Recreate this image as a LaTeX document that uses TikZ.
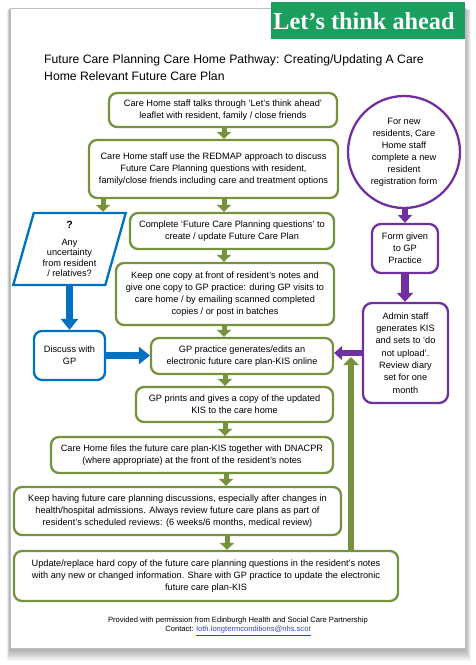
\documentclass[tikz,border=0pt]{standalone}
\usepackage{fontspec}
\setmainfont{Liberation Sans}
\newfontfamily\bannerfont{Liberation Serif}
\usetikzlibrary{arrows.meta,shapes.geometric}
\definecolor{gcol}{HTML}{76923C}
\definecolor{bcol}{HTML}{0070C0}
\definecolor{pcol}{HTML}{7030A0}
\definecolor{bann}{HTML}{1C9E5E}
\definecolor{linkcol}{HTML}{3344CC}
\begin{document}
\begin{tikzpicture}[x=1pt,y=-1pt,
  txt/.style={font=\fontsize{9.2}{12}\selectfont, align=center, inner sep=0pt},
  gbox/.style={txt, draw=gcol, line width=2.3pt, rounded corners=8pt, fill=white},
  bbox/.style={txt, draw=bcol, line width=2.3pt, rounded corners=8pt, fill=white},
  pbox/.style={txt, draw=pcol, line width=2.3pt, rounded corners=9pt, fill=white},
  garrow/.style={gcol, line width=5pt, -{Triangle[width=14pt,length=7pt]}},
  gup/.style={gcol, line width=6pt, -{Triangle[width=15pt,length=8pt]}},
  barrow/.style={bcol, line width=7pt, -{Triangle[width=17pt,length=11pt]}},
  parrow/.style={pcol, line width=6pt, -{Triangle[width=14pt,length=8pt]}},
  parrowthick/.style={pcol, line width=8pt, -{Triangle[width=16pt,length=9pt]}}
]
\useasboundingbox (0,0) rectangle (475,665);
\fill[white] (0,0) rectangle (475,665);
% page shadow
\foreach \i in {1,...,10}
  \fill[black, opacity=0.035] (10-\i*0.3, 8+\i*0.2) rectangle (465+\i*0.6, 648+\i*1.3);
\fill[white] (10,8) rectangle (465,648);
\draw[black!25, line width=0.4pt] (10,8) rectangle (465,648);

% banner
\fill[bann] (271,2) rectangle (465,39);
\node[text=white, font=\bannerfont\bfseries\fontsize{24.3}{26}\selectfont, inner sep=0pt] (banner) at (364,21) {Let’s think ahead};

% title
\node[anchor=north west, align=left, inner sep=0pt, font=\fontsize{12.2}{17.5}\selectfont] (title) at (44,54)
  {Future Care Planning Care Home Pathway: Creating/Updating A Care\\Home Relevant Future Care Plan};

% green boxes
\node[gbox, minimum width=228pt, minimum height=34pt] (b1) at (223,110)
  {Care Home staff talks through ‘Let’s think ahead’\\leaflet with resident, family / close friends};
\node[gbox, minimum width=249pt, minimum height=58pt] (b2) at (213.5,169)
  {Care Home staff use the REDMAP approach to discuss\\Future Care Planning questions with resident,\\family/close friends including care and treatment options};
\node[gbox, minimum width=204pt, minimum height=36pt] (b3) at (232,231)
  {Complete ‘Future Care Planning questions’ to\\create / update Future Care Plan};
\node[gbox, minimum width=218pt, minimum height=62pt] (b4) at (225,294)
  {Keep one copy at front of resident’s notes and\\give one copy to GP practice: during GP visits to\\care home / by emailing scanned completed\\copies / or post in batches};
\node[gbox, minimum width=182pt, minimum height=36pt] (gp) at (242,356)
  {GP practice generates/edits an\\electronic future care plan-KIS online};
\node[gbox, minimum width=197pt, minimum height=35pt] (prints) at (234.5,404.5)
  {GP prints and gives a copy of the updated\\KIS to the care home};
\node[gbox, minimum width=282pt, minimum height=36pt] (files) at (192,455)
  {Care Home files the future care plan-KIS together with DNACPR\\(where appropriate) at the front of the resident’s notes};
\node[gbox, minimum width=327pt, minimum height=48pt] (keep) at (177.5,511)
  {Keep having future care planning discussions, especially after changes in\\health/hospital admissions. Always review future care plans as part of\\resident’s scheduled reviews: (6 weeks/6 months, medical review)};
\node[gbox, minimum width=384pt, minimum height=50pt] (upd) at (206,576)
  {Update/replace hard copy of the future care planning questions in the resident’s notes\\with any new or changed information. Share with GP practice to update the electronic\\future care plan-KIS};

% blue elements
\node[txt, trapezium, trapezium left angle=74.5, trapezium right angle=105.5, trapezium stretches=true,
  minimum width=113pt, minimum height=72pt, draw=bcol, line width=2.3pt, fill=white,
  font=\fontsize{9.2}{10.5}\selectfont] (q) at (69.5,249)
  {{\fontsize{10.5}{10.5}\selectfont\bfseries ?}\\[6pt]Any\\uncertainty\\from resident\\/ relatives?};
\node[bbox, minimum width=71pt, minimum height=49pt] (disc) at (69.5,355.5) {Discuss with\\GP};

% purple elements
\node[txt, circle, draw=pcol, line width=2.3pt, fill=white, minimum size=112pt] (circ) at (404,152)
  {For new\\residents, Care\\Home staff\\complete a new\\resident\\registration form};
\node[pbox, minimum width=66pt, minimum height=49pt] (form) at (405,248.5) {Form given\\to GP\\Practice};
\node[pbox, minimum width=85pt, minimum height=100pt, font=\fontsize{9.2}{12.3}\selectfont] (admin) at (405.5,353)
  {Admin staff\\generates KIS\\and sets to ‘do\\not upload’.\\Review diary\\set for one\\month};

% green arrows
\draw[garrow] (224,0 |- b1.south) -- (224,0 |- b2.north);
\draw[garrow] (103,0 |- b2.south) -- (103,0 |- q.north);
\draw[garrow] (224,0 |- b2.south) -- (224,0 |- b3.north);
\draw[garrow] (224,0 |- b3.south) -- (224,0 |- b4.north);
\draw[garrow] (224,0 |- b4.south) -- (224,0 |- gp.north);
\draw[garrow] (225,0 |- gp.south) -- (225,0 |- prints.north);
\draw[garrow] (225,0 |- prints.south) -- (225,0 |- files.north);
\draw[garrow] (226,0 |- files.south) -- (226,0 |- keep.north);
\draw[garrow] (227,0 |- keep.south) -- (227,0 |- upd.north);
\coordinate (uptip) at (351,357);
\draw[gup] (uptip |- upd.north) -- (uptip);

% blue arrows
\draw[barrow] (disc.north |- q.south) -- (disc.north);
\draw[barrow] (disc.east) -- (disc.east -| gp.west);

% purple arrows
\draw[parrow] (form.north |- circ.south) -- (form.north);
\draw[parrowthick] (form.south) -- (form.south |- admin.north);
\draw[parrow] (admin.west) -- (admin.west -| gp.east);

% footer
\node[align=center, inner sep=0pt, font=\fontsize{7.6}{9}\selectfont] (foot) at (238,626.5)
  {Provided with permission from Edinburgh Health and Social Care Partnership\\
   Contact: \textcolor{linkcol}{\underline{loth.longtermconditions@nhs.scot}}};
\end{tikzpicture}
\end{document}
